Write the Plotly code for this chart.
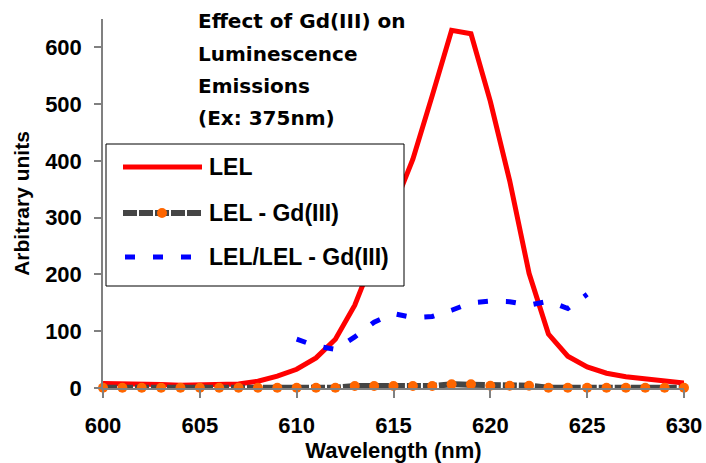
import plotly.graph_objects as go

# ---------------- data ----------------
wavelength = list(range(600, 631))
lel = [8, 8, 7, 6, 5, 5, 5, 7, 12, 21, 33, 53, 86, 146, 232, 318, 403, 515, 630, 624,
       505, 365, 202, 95, 56, 37, 26, 20, 16, 12, 9]
lel_gd = [0.5] * 13 + [3.5] * 5 + [6.5, 6.5] + [4, 4, 4] + [0.5] * 8
ratio_wavelength = list(range(610, 626))
ratio = [86, 74, 68, 90, 116, 131, 124, 126, 137, 150, 153, 152, 146, 153, 140, 165]

series_names = ["LEL", "LEL - Gd(III)", "LEL/LEL - Gd(III)"]
title_lines = ["Effect of Gd(III) on", "Luminescence", "Emissions", "(Ex: 375nm)"]

# ---------------- styles ----------------
RED = "#FF0000"
GRAY = "#454545"
ORANGE = "#FF6600"
BLUE = "#0000FF"
FONT = "Arial, Liberation Sans, sans-serif"

W, H = 706, 463
PL, PR, PT, PB = 103, 684, 19, 388


def px(x):
    return (x - PL) / (PR - PL)


def py(y):
    return (PB - y) / (PB - PT)


fig = go.Figure()
fig.add_trace(go.Scatter(x=wavelength, y=lel, mode="lines", name=series_names[0],
                         line=dict(color=RED, width=5), cliponaxis=False, showlegend=False))
fig.add_trace(go.Scatter(x=wavelength, y=lel_gd, mode="lines+markers", name=series_names[1],
                         line=dict(color=GRAY, width=6, dash="14px,2px"),
                         marker=dict(color=ORANGE, size=10, line=dict(width=0)),
                         cliponaxis=False, showlegend=False))
fig.add_trace(go.Scatter(x=ratio_wavelength, y=ratio, mode="lines", name=series_names[2],
                         line=dict(color=BLUE, width=5, dash="10px,18px"),
                         cliponaxis=False, showlegend=False))

axis_common = dict(showgrid=False, zeroline=False, showline=True, linecolor="#808080",
                   linewidth=1.5, ticks="outside", tickcolor="#808080", tickwidth=1.5,
                   tickfont=dict(family=FONT, size=22, color="black", weight="bold"),
                   automargin=False)

fig.update_xaxes(range=[600, 630], tick0=600, dtick=5, ticklen=8, ticklabelstandoff=9,
                 title=dict(text="Wavelength (nm)", standoff=6,
                            font=dict(family=FONT, size=22, color="black", weight="bold")),
                 **axis_common)
fig.update_yaxes(range=[0, 650], tick0=0, dtick=100, ticklen=7, ticklabelstandoff=8,
                 title=dict(text="Arbitrary units", standoff=10,
                            font=dict(family=FONT, size=21, color="black", weight="bold")),
                 **axis_common)

shapes = []
annotations = []

# custom legend box
shapes.append(dict(type="rect", xref="paper", yref="paper", layer="above",
                   x0=px(106), x1=px(404), y0=py(286), y1=py(144),
                   line=dict(color="black", width=1), fillcolor="white"))
legend_rows = [167, 213, 257]
shapes.append(dict(type="line", xref="paper", yref="paper", layer="above",
                   x0=px(123), x1=px(202), y0=py(legend_rows[0]), y1=py(legend_rows[0]),
                   line=dict(color=RED, width=5)))
shapes.append(dict(type="line", xref="paper", yref="paper", layer="above",
                   x0=px(123), x1=px(202), y0=py(legend_rows[1]), y1=py(legend_rows[1]),
                   line=dict(color=GRAY, width=6, dash="14px,2px")))
shapes.append(dict(type="circle", xref="paper", yref="paper", layer="above",
                   x0=px(157), x1=px(167), y0=py(legend_rows[1] + 5), y1=py(legend_rows[1] - 5),
                   line=dict(width=0), fillcolor=ORANGE))
shapes.append(dict(type="line", xref="paper", yref="paper", layer="above",
                   x0=px(125), x1=px(192), y0=py(legend_rows[2]), y1=py(legend_rows[2]),
                   line=dict(color=BLUE, width=5, dash="10px,18px")))
for name, row in zip(series_names, legend_rows):
    annotations.append(dict(text=name, xref="paper", yref="paper", x=px(207), y=py(row),
                            xanchor="left", yanchor="middle", showarrow=False,
                            font=dict(family=FONT, size=23, color="black", weight="bold")))

# title block
for line, cy in zip(title_lines, [21.5, 54, 86, 118]):
    annotations.append(dict(text=line, xref="paper", yref="paper", x=px(196), y=py(cy),
                            xanchor="left", yanchor="middle", showarrow=False,
                            font=dict(family="DejaVu Sans, sans-serif", size=20,
                                      color="black", weight="bold")))

fig.update_layout(width=W, height=H, margin=dict(l=PL, r=W - PR, t=PT, b=H - PB),
                  paper_bgcolor="white", plot_bgcolor="white",
                  shapes=shapes, annotations=annotations, showlegend=False)

fig.write_html("out.html")
